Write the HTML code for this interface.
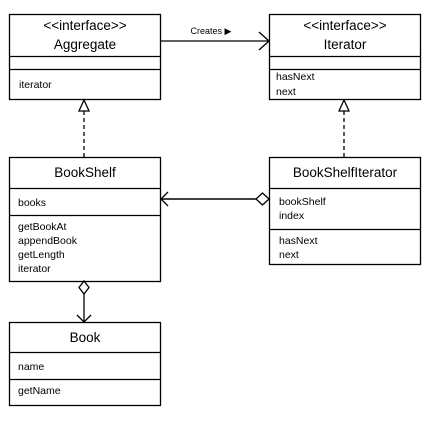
<!DOCTYPE html>
<html><head><meta charset="utf-8"><style>
html,body{margin:0;padding:0;background:#fff;}
svg{display:block;}
text{font-family:"Liberation Sans","DejaVu Sans",sans-serif;fill:#000;}
.t{font-size:13.5px;text-anchor:middle;}
.a{font-size:10.5px;}
</style></head><body>
<svg width="434" height="446" viewBox="0 0 434 446" xmlns="http://www.w3.org/2000/svg">
<g fill="#fff" stroke="#000" stroke-width="1.3">
<rect x="9.5" y="14.5" width="151" height="85"/>
<line x1="9.5" y1="56.5" x2="160.5" y2="56.5"/>
<line x1="9.5" y1="69.5" x2="160.5" y2="69.5"/>
<rect x="269.5" y="14.5" width="151" height="85"/>
<line x1="269.5" y1="56.5" x2="420.5" y2="56.5"/>
<line x1="269.5" y1="69.5" x2="420.5" y2="69.5"/>
<rect x="9.5" y="157.5" width="151" height="124"/>
<line x1="9.5" y1="188.5" x2="160.5" y2="188.5"/>
<line x1="9.5" y1="215.5" x2="160.5" y2="215.5"/>
<rect x="269.5" y="157.5" width="151" height="107"/>
<line x1="269.5" y1="188.5" x2="420.5" y2="188.5"/>
<line x1="269.5" y1="229.5" x2="420.5" y2="229.5"/>
<rect x="9.5" y="322.5" width="151" height="83"/>
<line x1="9.5" y1="352.5" x2="160.5" y2="352.5"/>
<line x1="9.5" y1="379.5" x2="160.5" y2="379.5"/>
</g>
<g fill="none" stroke="#000" stroke-width="1.3">
<line x1="161" y1="41" x2="269" y2="41"/>
<polyline points="259,32 269,41 259,50"/>
<line x1="84" y1="111" x2="84" y2="157" stroke-dasharray="4,3"/>
<polygon points="84,100 79,111 89,111" fill="#fff"/>
<line x1="344" y1="111" x2="344" y2="157" stroke-dasharray="4,3"/>
<polygon points="344,100 339,111 349,111" fill="#fff"/>
<line x1="161" y1="199" x2="256" y2="199" stroke-width="1.6"/>
<polyline points="168,192 161,199 168,206"/>
<polygon points="256,199 262.5,193 269,199 262.5,205" fill="#fff"/>
<line x1="84" y1="294" x2="84" y2="322"/>
<polygon points="84,281 89,287.5 84,294 79,287.5" fill="#fff"/>
<polyline points="77,315 84,322 91,315"/>
</g>
<text x="211" y="34" style="font-size:9px" text-anchor="middle">Creates ▶</text>
<text class="t" x="85" y="30">&lt;&lt;interface&gt;&gt;</text>
<text class="t" x="85" y="49">Aggregate</text>
<text class="a" x="19" y="88">iterator</text>
<text class="t" x="345" y="30">&lt;&lt;interface&gt;&gt;</text>
<text class="t" x="345" y="49">Iterator</text>
<text class="a" x="276" y="80">hasNext</text>
<text class="a" x="276" y="95">next</text>
<text class="t" x="85" y="177">BookShelf</text>
<text class="a" x="18" y="206">books</text>
<text class="a" x="18" y="230">getBookAt</text>
<text class="a" x="18" y="244">appendBook</text>
<text class="a" x="18" y="258">getLength</text>
<text class="a" x="18" y="272">iterator</text>
<text class="t" x="345" y="177">BookShelfIterator</text>
<text class="a" x="279" y="205">bookShelf</text>
<text class="a" x="279" y="219">index</text>
<text class="a" x="279" y="244">hasNext</text>
<text class="a" x="279" y="258">next</text>
<text class="t" x="85" y="342">Book</text>
<text class="a" x="18" y="370">name</text>
<text class="a" x="18" y="394">getName</text>
</svg>
</body></html>
